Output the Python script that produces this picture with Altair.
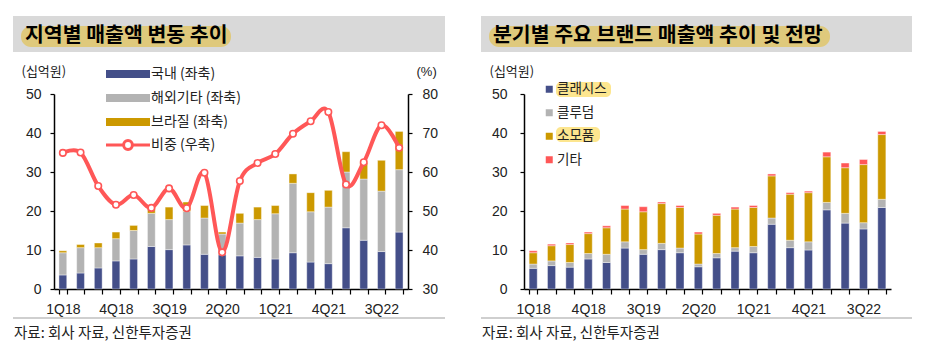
import json
import altair as alt
import pandas as pd

# ---------------- data ----------------
quarters = ['1Q18', '2Q18', '3Q18', '4Q18', '1Q19', '2Q19', '3Q19', '4Q19',
            '1Q20', '2Q20', '3Q20', '4Q20', '1Q21', '2Q21', '3Q21', '4Q21',
            '1Q22', '2Q22', '3Q22', '4Q22']
shown_labels = ['1Q18', '4Q18', '3Q19', '2Q20', '1Q21', '4Q21', '3Q22']

left_series = ['국내 (좌축)', '해외기타 (좌축)', '브라질 (좌축)']
domestic = [3.6, 4.1, 5.4, 7.2, 7.7, 10.9, 10.1, 11.3, 8.9, 8.8,
            8.5, 8.1, 7.7, 9.3, 6.9, 6.5, 15.7, 12.5, 9.6, 14.6]
overseas = [5.7, 6.5, 5.2, 5.7, 7.3, 8.5, 7.7, 8.6, 9.3, 5.3,
            8.4, 9.7, 11.6, 17.8, 12.9, 14.5, 14.3, 15.7, 15.5, 16.0]
brazil = [0.5, 0.8, 1.2, 1.7, 1.3, 2.0, 3.2, 2.4, 3.2, 0.5,
          2.5, 3.2, 2.1, 2.4, 4.9, 4.3, 5.2, 4.1, 7.9, 9.8]
share_name = '비중 (우축)'
share = [64.9, 65.0, 56.4, 51.6, 54.1, 50.8, 55.8, 50.7, 59.8, 39.4,
         57.7, 62.3, 64.6, 69.8, 73.0, 75.4, 56.8, 62.5, 72.0, 66.2]

right_series = ['클래시스', '클루덤', '소모품', '기타']
classys = [5.3, 6.0, 5.6, 7.7, 6.8, 10.5, 8.9, 10.1, 9.3, 5.7,
           8.0, 9.7, 9.3, 16.6, 10.6, 10.0, 20.3, 16.9, 15.4, 20.9]
cluderm = [1.1, 1.2, 1.2, 1.4, 2.1, 1.6, 1.2, 1.6, 1.2, 0.7,
           1.1, 0.9, 1.6, 1.6, 1.9, 2.1, 1.9, 2.5, 1.6, 2.1]
consumables = [2.9, 3.9, 4.6, 5.1, 6.8, 8.4, 9.7, 10.2, 10.4, 7.7,
               9.8, 9.9, 10.0, 10.8, 11.8, 12.6, 11.7, 11.7, 14.9, 16.6]
others = [0.5, 0.4, 0.4, 0.4, 0.5, 0.9, 1.3, 0.4, 0.5, 0.5,
          0.5, 0.5, 0.5, 0.5, 0.4, 0.4, 1.2, 1.2, 1.3, 0.8]

y_ticks_amt = [0, 10, 20, 30, 40, 50]
y_ticks_pct = [30, 40, 50, 60, 70, 80]

left_title = '지역별 매출액 변동 추이'
right_title = '분기별 주요 브랜드 매출액 추이 및 전망'
source_text = '자료: 회사 자료, 신한투자증권'
unit_amt = '(십억원)'
unit_pct = '(%)'

# ---------------- style ----------------
FONT = "'Liberation Sans', 'Noto Sans CJK KR', sans-serif"
KFONT = "'Noto Sans CJK KR', sans-serif"
NAVY = '#444f89'
GRAY = '#b3b3b3'
GOLD = '#cc9900'
RED = '#ff5757'
TXT = '#222222'

W_L, W_R, H = 354, 367, 195

left_rows = []
for i, q in enumerate(quarters):
    for k, (name, vals) in enumerate(zip(left_series, [domestic, overseas, brazil])):
        left_rows.append({'q': q, 'series': name, 'value': vals[i], 'ord': k})
left_df = pd.DataFrame(left_rows)
line_df = pd.DataFrame({'q': quarters, 'share': share, 'name': [share_name] * len(quarters)})

right_rows = []
for i, q in enumerate(quarters):
    for k, (name, vals) in enumerate(zip(right_series, [classys, cluderm, consumables, others])):
        right_rows.append({'q': q, 'series': name, 'value': vals[i], 'ord': k})
right_df = pd.DataFrame(right_rows)

label_expr = "indexof(" + json.dumps(shown_labels) + ", datum.label) >= 0 ? datum.label : ''"


def x_enc():
    return alt.X('q:N', sort=quarters, title=None,
                 scale=alt.Scale(paddingInner=0.56, paddingOuter=0.28),
                 axis=alt.Axis(labelAngle=0, tickBand='extent', labelExpr=label_expr,
                               labelOverlap=False, domainColor='black', domainWidth=1.5,
                               tickColor='black', tickWidth=1.2, tickSize=5,
                               labelFont=FONT, labelFontSize=14, labelColor=TXT,
                               labelPadding=8))


def one():
    return pd.DataFrame({'d': [0]})


def decor(xl, xr, title_text, hl_right):
    band = alt.Chart(one()).mark_rect(color='#d9d9d9').encode(
        x=alt.value(xl), x2=alt.value(xr), y=alt.value(-78), y2=alt.value(-42))
    hl = alt.Chart(one()).mark_rect(color='#dfc97c', cornerRadius=10).encode(
        x=alt.value(xl + 8), x2=alt.value(hl_right), y=alt.value(-68), y2=alt.value(-47))
    ttl = alt.Chart(one()).mark_text(text=title_text, font=KFONT, fontSize=20.5,
                                     fontWeight='bold', color='black', align='left',
                                     baseline='middle').encode(
        x=alt.value(xl + 12), y=alt.value(-58))
    rule = alt.Chart(one()).mark_rule(color='#bfbfbf', strokeWidth=1.5).encode(
        x=alt.value(xl), x2=alt.value(xr), y=alt.value(224))
    src = alt.Chart(one()).mark_text(text=source_text, font=KFONT, fontSize=14.5,
                                     color=TXT, align='left', baseline='middle').encode(
        x=alt.value(xl + 1), y=alt.value(240))
    return [band, hl, ttl, rule, src]


# ---------------- left panel ----------------
bars_l = alt.Chart(left_df).mark_bar(stroke='white', strokeWidth=0.4).encode(
    x=x_enc(),
    y=alt.Y('value:Q', stack='zero', scale=alt.Scale(domain=[0, 50], nice=False),
            axis=alt.Axis(values=y_ticks_amt, title=unit_amt, titleAngle=0, titleX=-33,
                          titleY=-23, titleAlign='left', titleBaseline='middle',
                          titleFont=KFONT, titleFontSize=13, titleFontWeight='normal',
                          titleColor=TXT, grid=False, tickSize=4, tickColor='black',
                          tickWidth=1.2, domainColor='black', domainWidth=1.5,
                          labelPadding=9, labelFont=FONT, labelFontSize=14,
                          labelColor=TXT)),
    color=alt.Color('series:N', scale=alt.Scale(domain=left_series, range=[NAVY, GRAY, GOLD]),
                    legend=alt.Legend(title=None, orient='none', legendX=67, legendY=-27,
                                      symbolType='M-5.5,-1H5.5V1H-5.5Z', symbolSize=64,
                                      symbolStrokeWidth=0, labelFont=KFONT, labelFontSize=14,
                                      labelColor=TXT, labelOffset=16, rowPadding=10,
                                      padding=0)),
    order=alt.Order('ord:Q')
)

line_l = alt.Chart(line_df).mark_line(interpolate='cardinal', strokeWidth=4).encode(
    x=alt.X('q:N', sort=quarters),
    y=alt.Y('share:Q', scale=alt.Scale(domain=[30, 80], nice=False),
            axis=alt.Axis(orient='right', values=y_ticks_pct, title=unit_pct, titleAngle=0,
                          titleX=8, titleY=-23, titleAlign='left', titleBaseline='middle',
                          titleFont=FONT, titleFontSize=13, titleFontWeight='normal',
                          titleColor=TXT, grid=False, tickSize=4, tickColor='black',
                          tickWidth=1.2, domainColor='black', domainWidth=1.5,
                          labelPadding=10, labelFont=FONT, labelFontSize=14,
                          labelColor=TXT)),
    stroke=alt.Stroke('name:N', scale=alt.Scale(domain=[share_name], range=[RED]),
                      legend=alt.Legend(title=None, orient='none', legendX=67, legendY=44,
                                        symbolType='M-5.5,0H-1.1M1.1,0H5.5M1.1,0A1.1,1.1,0,1,1,-1.1,0A1.1,1.1,0,1,1,1.1,0Z',
                                        symbolSize=64, symbolStrokeWidth=3,
                                        symbolFillColor='white', labelFont=KFONT,
                                        labelFontSize=14, labelColor=TXT, labelOffset=16,
                                        padding=0))
)

pts_l = alt.Chart(line_df).mark_point(filled=True, fill='white', stroke=RED, strokeWidth=1.6,
                                      size=42, opacity=1).encode(
    x=alt.X('q:N', sort=quarters),
    y=alt.Y('share:Q', scale=alt.Scale(domain=[30, 80], nice=False), axis=None)
)

left = alt.layer(*decor(-41, 391, left_title, 177), bars_l, line_l, pts_l).resolve_scale(
    y='independent', color='independent', stroke='independent'
).properties(width=W_L, height=H)

# ---------------- right panel ----------------
hl1 = alt.Chart(one()).mark_rect(color='#fde68f', cornerRadius=5).encode(
    x=alt.value(32), x2=alt.value(87), y=alt.value(-12), y2=alt.value(3))
hl2 = alt.Chart(one()).mark_rect(color='#fde68f', cornerRadius=5).encode(
    x=alt.value(32), x2=alt.value(76), y=alt.value(33), y2=alt.value(48))

bars_r = alt.Chart(right_df).mark_bar(stroke='white', strokeWidth=0.4).encode(
    x=x_enc(),
    y=alt.Y('value:Q', stack='zero', scale=alt.Scale(domain=[0, 50], nice=False),
            axis=alt.Axis(values=y_ticks_amt, title=unit_amt, titleAngle=0, titleX=-35,
                          titleY=-23, titleAlign='left', titleBaseline='middle',
                          titleFont=KFONT, titleFontSize=13, titleFontWeight='normal',
                          titleColor=TXT, grid=False, tickSize=4, tickColor='black',
                          tickWidth=1.2, domainColor='black', domainWidth=1.5,
                          labelPadding=13, labelFont=FONT, labelFontSize=14,
                          labelColor=TXT)),
    color=alt.Color('series:N', scale=alt.Scale(domain=right_series, range=[NAVY, GRAY, GOLD, RED]),
                    legend=alt.Legend(title=None, orient='none', legendX=18.5, legendY=-11.5,
                                      symbolType='square', symbolSize=49,
                                      symbolStrokeWidth=0, labelFont=KFONT, labelFontSize=13.5,
                                      labelColor=TXT, labelOffset=1, rowPadding=8.5,
                                      padding=0)),
    order=alt.Order('ord:Q')
)

right = alt.layer(*decor(-43, 388, right_title, 306), hl1, hl2, bars_r).properties(
    width=W_R, height=H)

chart = alt.hconcat(left, right, spacing=34).resolve_scale(
    color='independent', stroke='independent'
).resolve_legend(color='independent', stroke='independent').properties(
    padding={'left': 12, 'top': 16, 'right': 0, 'bottom': 0},
    background='white'
).configure_view(strokeWidth=0)

chart.save('out.html', embed_options={'renderer': 'svg', 'actions': False})
